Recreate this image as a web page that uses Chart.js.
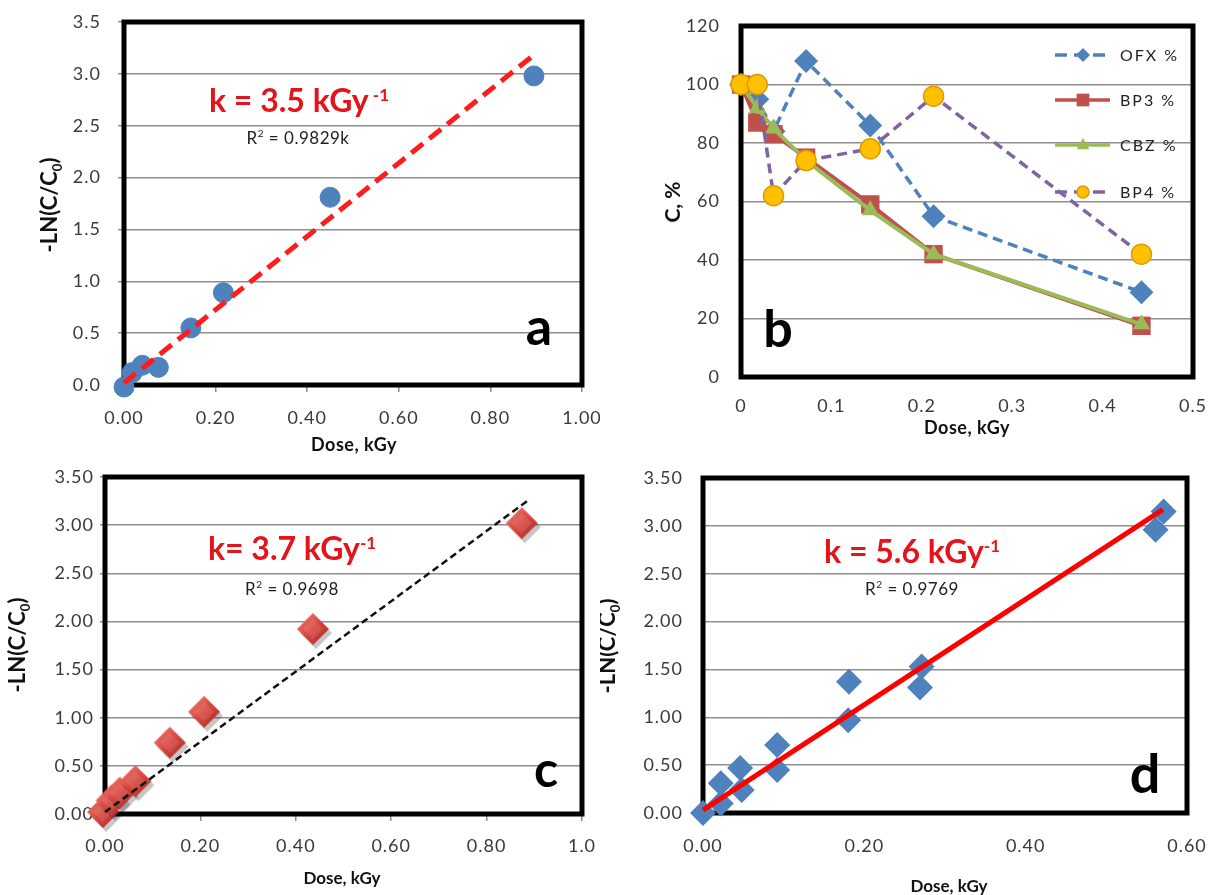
<!DOCTYPE html>
<html>
<head>
<meta charset="utf-8">
<script src="https://cdn.jsdelivr.net/npm/chart.js@4.4.0/dist/chart.umd.min.js"></script>
<style>
    html, body { margin: 0; padding: 0; background: #fff; }
    #wrap { position: relative; width: 1208px; height: 895px; overflow: hidden; }
    #wrap canvas { position: absolute; }
</style>
</head>
<body>
<div id="wrap">
    <canvas id="chartC" width="600" height="445" style="left:0;top:450px"></canvas>
    <canvas id="chartD" width="608" height="445" style="left:600px;top:450px"></canvas>
    <canvas id="chartA" width="600" height="460" style="left:0;top:0"></canvas>
    <canvas id="chartB" width="608" height="460" style="left:600px;top:0"></canvas>
</div>
<script>
// Panel a: -LN(C/C0) against dose
const doseA = [0, 0.018, 0.04, 0.075, 0.146, 0.217, 0.45, 0.895];
const lnA = [-0.02, 0.12, 0.19, 0.17, 0.55, 0.89, 1.81, 2.98];
const fitDoseA = [0, 0.9];
const fitLnA = [0.02, 3.2];
const xTicksA = ['0.00', '0.20', '0.40', '0.60', '0.80', '1.00'];
const yTicksA = ['0.0', '0.5', '1.0', '1.5', '2.0', '2.5', '3.0', '3.5'];

// Panel b: remaining concentration, %
const seriesNames = ['OFX %', 'BP3 %', 'CBZ %', 'BP4 %'];
const doseB = [0, 0.018, 0.036, 0.072, 0.143, 0.213, 0.443];
const ofx = [100, 95, 84, 108, 86, 55, 29];
const bp3 = [100, 87, 83, 75, 59, 42, 17.5];
const cbz = [100, 92, 85, 74, 57, 42, 18];
const bp4 = [100, 100, 62, 74, 78, 96, 42];
const xTicksB = ['0', '0.1', '0.2', '0.3', '0.4', '0.5'];
const yTicksB = ['0', '20', '40', '60', '80', '100', '120'];

// Panel c
const doseC = [0, 0.018, 0.035, 0.068, 0.14, 0.212, 0.44, 0.878];
const lnC = [0, 0.12, 0.2, 0.32, 0.72, 1.04, 1.9, 3.0];
const fitDoseC = [0, 0.885];
const fitLnC = [0.02, 3.25];
const xTicksC = ['0.00', '0.20', '0.40', '0.60', '0.80', '1.0'];
const yTicksC = ['0.00', '0.50', '1.00', '1.50', '2.00', '2.50', '3.00', '3.50'];

// Panel d
const doseD = [0, 0.022, 0.022, 0.046, 0.048, 0.092, 0.092, 0.181, 0.18, 0.269, 0.271, 0.561, 0.571];
const lnD = [0, 0.1, 0.31, 0.47, 0.24, 0.71, 0.45, 1.37, 0.97, 1.31, 1.53, 2.96, 3.15];
const fitDoseD = [0, 0.57];
const fitLnD = [0.03, 3.17];
const xTicksD = ['0.00', '0.20', '0.40', '0.60'];
const yTicksD = ['0.00', '0.50', '1.00', '1.50', '2.00', '2.50', '3.00', '3.50'];

// Colours
const BLUE = '#4f81bd';
const RED = '#c0504d';
const GREEN = '#9bbb59';
const PURPLE = '#8064a2';
const YELLOW = '#ffc000';
const GRID_COLOR = '#8e8e8e';
const TICK_COLOR = '#3a3a3a';
const FONT = 'Lato, "Liberation Sans", sans-serif';

Chart.defaults.font.family = FONT;

function f(size, bold) {
    return (bold ? 'bold ' : '') + size + 'px ' + FONT;
}

function pts(xs, ys) {
    return xs.map((x, i) => ({ x: x, y: ys[i] }));
}

function axisX(min, max, step, labels, box) {
    return {
        type: 'linear', min: min, max: max,
        ticks: {
            stepSize: step, maxRotation: 0, autoSkip: false, padding: box.pad,
            color: TICK_COLOR, font: { size: 18 },
            callback: (v, i) => labels[i]
        },
        grid: { display: box.tick > 0, drawOnChartArea: false, tickLength: box.tick, color: GRID_COLOR, lineWidth: 1.5 },
        border: { display: false },
        afterFit: s => { s.height = box.h; s.paddingLeft = 0; s.paddingRight = 0; }
    };
}

function axisY(min, max, step, labels, box) {
    return {
        type: 'linear', min: min, max: max,
        ticks: {
            stepSize: step, padding: box.pad, color: TICK_COLOR, font: { size: 18 },
            callback: (v, i) => labels[i]
        },
        grid: { color: GRID_COLOR, lineWidth: 1.5, drawTicks: box.tick > 0, tickLength: box.tick },
        border: { display: false },
        afterFit: s => { s.width = box.w; s.paddingTop = 0; s.paddingBottom = 0; }
    };
}

// draws a run of text pieces (sub/superscripts) around the current origin
function rich(ctx, parts, align) {
    let w = 0;
    parts.forEach(p => { ctx.font = p.font; p.w = ctx.measureText(p.t).width; w += p.w; });
    let x = align === 'center' ? -w / 2 : 0;
    ctx.textAlign = 'left';
    ctx.textBaseline = 'alphabetic';
    parts.forEach(p => {
        ctx.font = p.font;
        ctx.fillStyle = p.color || '#111';
        ctx.fillText(p.t, x, p.dy || 0);
        x += p.w;
    });
}

function marker(ctx, style, x, y, r, fill, stroke) {
    ctx.beginPath();
    if (style === 'circle') {
        ctx.arc(x, y, r, 0, Math.PI * 2);
    } else if (style === 'rect') {
        const h = r * Math.SQRT1_2;
        ctx.rect(x - h, y - h, 2 * h, 2 * h);
    } else if (style === 'rectRot') {
        ctx.moveTo(x - r, y); ctx.lineTo(x, y - r); ctx.lineTo(x + r, y); ctx.lineTo(x, y + r);
        ctx.closePath();
    } else if (style === 'triangle') {
        ctx.moveTo(x, y - r); ctx.lineTo(x + r * 0.9, y + r * 0.6); ctx.lineTo(x - r * 0.9, y + r * 0.6);
        ctx.closePath();
    }
    ctx.fillStyle = fill;
    ctx.fill();
    if (stroke) { ctx.strokeStyle = stroke; ctx.lineWidth = 1.5; ctx.stroke(); }
}

// bevelled red diamond used as point image in panel c
function bevelDiamond(r) {
    const s = 2 * r + 10;
    const c = document.createElement('canvas');
    c.width = s; c.height = s;
    const g = c.getContext('2d');
    const m = s / 2 - 2;
    const path = (cx, cy, rr) => {
        g.beginPath();
        g.moveTo(cx - rr, cy); g.lineTo(cx, cy - rr); g.lineTo(cx + rr, cy); g.lineTo(cx, cy + rr);
        g.closePath();
    };
    g.fillStyle = 'rgba(0,0,0,0.22)';
    path(m + 3, m + 4, r); g.fill();
    const grad = g.createLinearGradient(m - r, m - r, m + r, m + r);
    grad.addColorStop(0, '#f2837b');
    grad.addColorStop(0.5, '#d8463f');
    grad.addColorStop(1, '#a52b25');
    g.fillStyle = grad;
    path(m, m, r); g.fill();
    g.fillStyle = 'rgba(255,255,255,0.10)';
    path(m, m, r * 0.62); g.fill();
    return c;
}

function decor(cfg) {
    return {
        id: 'decor',
        beforeDraw(chart) {
            chart.ctx.letterSpacing = '1px';
        },
        beforeDatasetsDraw(chart) {
            const a = chart.chartArea;
            const ctx = chart.ctx;
            ctx.save();
            ctx.strokeStyle = '#000';
            ctx.lineWidth = 5;
            ctx.strokeRect(a.left, a.top, a.right - a.left, a.bottom - a.top);
            ctx.restore();
        },
        afterDraw(chart) {
            const ctx = chart.ctx;
            cfg.texts.forEach(item => {
                ctx.save();
                ctx.letterSpacing = (item.spacing || 0) + 'px';
                ctx.translate(item.x, item.y);
                if (item.rot) ctx.rotate(item.rot);
                rich(ctx, item.parts, 'center');
                ctx.restore();
            });
            if (cfg.legend) cfg.legend(ctx);
        }
    };
}

function yTitle(x, y, parts) {
    return { x: x, y: y, rot: -Math.PI / 2, parts: parts };
}

function lnTitle(x, y) {
    return yTitle(x, y, [
        { t: '-LN(C/C', font: f(22, true) },
        { t: '0', font: f(13, true), dy: 5 },
        { t: ')', font: f(22, true) }
    ]);
}

function kText(x, y, main, sup) {
    return {
        x: x, y: y, parts: [
            { t: main, font: f(32, true), color: '#e3141c' },
            { t: sup, font: f(17, true), color: '#e3141c', dy: -11 }
        ]
    };
}

function r2Text(x, y, val) {
    return {
        x: x, y: y, spacing: 0.5, parts: [
            { t: 'R', font: f(17), color: '#222' },
            { t: '2', font: f(10), color: '#222', dy: -7 },
            { t: ' = ' + val, font: f(17), color: '#222' }
        ]
    };
}

function baseOptions(top, right, scales) {
    return {
        responsive: false,
        animation: false,
        layout: { padding: { top: top, right: right, bottom: 0, left: 0 } },
        scales: scales,
        plugins: { legend: { display: false }, tooltip: { enabled: false } }
    };
}

// Panel a
new Chart(document.getElementById('chartA'), {
    type: 'scatter',
    data: {
        datasets: [
            {
                data: pts(fitDoseA, fitLnA), showLine: true, borderColor: '#ff1c1c', borderWidth: 5,
                borderDash: [15, 8], pointRadius: 0, order: 0, clip: false
            },
            {
                data: pts(doseA, lnA), pointStyle: 'circle', pointRadius: 10,
                pointBackgroundColor: BLUE, pointBorderColor: BLUE, order: 1, clip: false
            }
        ]
    },
    options: baseOptions(22, 18, {
        x: axisX(0, 1, 0.2, xTicksA, { h: 75, tick: 7, pad: 15 }),
        y: axisY(0, 3.5, 0.5, yTicksA, { w: 124, tick: 6, pad: 17 })
    }),
    plugins: [decor({
        texts: [
            lnTitle(57, 205),
            { x: 354, y: 451, spacing: 0.5, parts: [{ t: 'Dose, kGy', font: f(18, true) }] },
            kText(299, 112, 'k = 3.5 kGy', ' -1'),
            r2Text(298, 144, '0.9829k'),
            { x: 539, y: 345, parts: [{ t: 'a', font: f(52, true), color: '#000' }] }
        ]
    })]
});

// Panel b
const legendB = [
    { color: BLUE, dash: true, style: 'rectRot', r: 7, fill: BLUE },
    { color: RED, dash: false, style: 'rect', r: 9, fill: RED },
    { color: GREEN, dash: false, style: 'triangle', r: 7, fill: GREEN },
    { color: PURPLE, dash: true, style: 'circle', r: 6, fill: YELLOW, stroke: '#e09b00' }
];
const legendRowsB = [55, 100, 145, 192];

new Chart(document.getElementById('chartB'), {
    type: 'scatter',
    data: {
        datasets: [
            {
                label: seriesNames[0], data: pts(doseB, ofx), showLine: true, borderColor: BLUE, borderWidth: 3.5,
                borderDash: [10, 6], pointStyle: 'rectRot', pointRadius: 12, pointBackgroundColor: BLUE,
                pointBorderColor: BLUE, pointBorderWidth: 0, order: 4, clip: false
            },
            {
                label: seriesNames[1], data: pts(doseB, bp3), showLine: true, borderColor: RED, borderWidth: 4,
                pointStyle: 'rect', pointRadius: 13, pointBackgroundColor: RED, pointBorderColor: RED,
                pointBorderWidth: 0, order: 3, clip: false
            },
            {
                label: seriesNames[2], data: pts(doseB, cbz), showLine: true, borderColor: GREEN, borderWidth: 4,
                pointStyle: 'triangle', pointRadius: 10, pointBackgroundColor: GREEN, pointBorderColor: GREEN,
                pointBorderWidth: 0, order: 2, clip: false
            },
            {
                label: seriesNames[3], data: pts(doseB, bp4), showLine: true, borderColor: PURPLE, borderWidth: 3.5,
                borderDash: [10, 6], pointStyle: 'circle', pointRadius: 10, pointBackgroundColor: YELLOW,
                pointBorderColor: '#e09b00', pointBorderWidth: 1.5, order: 1, clip: false
            }
        ]
    },
    options: baseOptions(26, 15, {
        x: axisX(0, 0.5, 0.1, xTicksB, { h: 83, tick: 0, pad: 18 }),
        y: axisY(0, 120, 20, yTicksB, { w: 141, tick: 0, pad: 21 })
    }),
    plugins: [decor({
        texts: [
            yTitle(80, 202, [{ t: 'C, %', font: f(21, true) }]),
            { x: 367, y: 434, spacing: 0.5, parts: [{ t: 'Dose, kGy', font: f(18, true) }] },
            { x: 178, y: 347, parts: [{ t: 'b', font: f(52, true), color: '#000' }] }
        ],
        legend: ctx => {
            legendB.forEach((item, i) => {
                const y = legendRowsB[i];
                ctx.save();
                ctx.strokeStyle = item.color;
                ctx.lineWidth = 3.5;
                ctx.setLineDash(item.dash ? [12, 7] : []);
                ctx.beginPath();
                ctx.moveTo(455, y);
                ctx.lineTo(510, y);
                ctx.stroke();
                ctx.setLineDash([]);
                marker(ctx, item.style, 483, y, item.r, item.fill, item.stroke);
                ctx.letterSpacing = '2px';
                ctx.font = f(16);
                ctx.fillStyle = '#222';
                ctx.textAlign = 'left';
                ctx.textBaseline = 'middle';
                ctx.fillText(seriesNames[i], 520, y + 1);
                ctx.restore();
            });
        }
    })]
});

// Panel c
const diamondImg = bevelDiamond(16);

new Chart(document.getElementById('chartC'), {
    type: 'scatter',
    data: {
        datasets: [
            {
                data: pts(fitDoseC, fitLnC), showLine: true, borderColor: '#111', borderWidth: 2.5,
                borderDash: [7, 4], pointRadius: 0, order: 0, clip: false
            },
            {
                data: pts(doseC, lnC), pointStyle: diamondImg, pointRadius: 16, order: 1, clip: false
            }
        ]
    },
    options: baseOptions(27, 18, {
        x: axisX(0, 1, 0.2, xTicksC, { h: 81, tick: 7, pad: 14 }),
        y: axisY(0, 3.5, 0.5, yTicksC, { w: 105, tick: 5, pad: 6 })
    }),
    plugins: [decor({
        texts: [
            lnTitle(25, 195),
            { x: 342, y: 434, parts: [{ t: 'Dose, kGy', font: f(17, true) }] },
            kText(292, 110, 'k= 3.7 kGy', '-1'),
            r2Text(292, 145, '0.9698'),
            { x: 546, y: 337, parts: [{ t: 'c', font: f(50, true), color: '#000' }] }
        ]
    })]
});

// Panel d
new Chart(document.getElementById('chartD'), {
    type: 'scatter',
    data: {
        datasets: [
            {
                data: pts(fitDoseD, fitLnD), showLine: true, borderColor: '#ff0000', borderWidth: 5,
                pointRadius: 0, order: 0, clip: false
            },
            {
                data: pts(doseD, lnD), pointStyle: 'rectRot', pointRadius: 13, pointBackgroundColor: BLUE,
                pointBorderColor: BLUE, pointBorderWidth: 0, order: 1, clip: false
            }
        ]
    },
    options: baseOptions(28, 21, {
        x: axisX(0, 0.6, 0.2, xTicksD, { h: 82, tick: 0, pad: 22 }),
        y: axisY(0, 3.5, 0.5, yTicksD, { w: 103, tick: 0, pad: 20 })
    }),
    plugins: [decor({
        texts: [
            lnTitle(15, 196),
            { x: 349, y: 442, parts: [{ t: 'Dose, kGy', font: f(17, true) }] },
            kText(312, 113, 'k = 5.6 kGy', '-1'),
            r2Text(312, 145, '0.9769'),
            { x: 545, y: 343, parts: [{ t: 'd', font: f(54, true), color: '#000' }] }
        ]
    })]
});
</script>
</body>
</html>
